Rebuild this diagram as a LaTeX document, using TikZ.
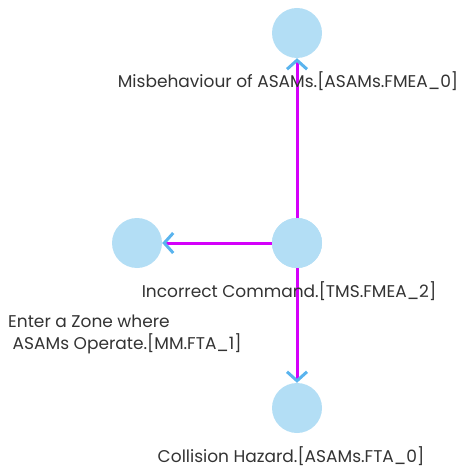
\documentclass[tikz,border=0pt]{standalone}
\usepackage{fontspec}
\setmainfont{Poppins}
\usetikzlibrary{arrows.meta}
\definecolor{nodeblue}{HTML}{B3DEF5}
\definecolor{tipblue}{HTML}{5AB4EE}
\definecolor{linemag}{HTML}{D400FA}
\definecolor{txt}{HTML}{333333}
\begin{document}
\begin{tikzpicture}[x=1pt,y=-1pt,
  ev/.style={circle,fill=nodeblue,minimum size=50pt,inner sep=0pt},
  lbl/.style={text=txt,font=\fontsize{17}{21}\selectfont,inner sep=0pt},
  conn/.style={draw=linemag,line width=3pt,-{Straight Barb[color=tipblue,length=9pt,width=20pt,line width=3pt]}}]
\useasboundingbox (0,0) rectangle (466,470);
\node[ev] (mid) at (297,243) {};
\node[ev] (top) at (297,33) {};
\node[ev] (left) at (137,243) {};
\node[ev] (bot) at (297,408) {};
\draw[conn] (mid.center) -- (top.south);
\draw[conn] (mid.center) -- (left.east);
\draw[conn] (mid.center) -- (bot.north);
\node[ev] at (297,243) (midc) {};
\node[lbl,anchor=base] (ltop) at (288,88) {Misbehaviour of ASAMs.[ASAMs.FMEA\_0]};
\node[lbl,anchor=base] (lmid) at (289,297) {Incorrect Command.[TMS.FMEA\_2]};
\node[lbl,anchor=base west] (lleft1) at (8,327) {Enter a Zone where};
\node[lbl,anchor=base west] (lleft2) at (8,349) {\ ASAMs Operate.[MM.FTA\_1]};
\node[lbl,anchor=base] (lbot) at (291,462) {Collision Hazard.[ASAMs.FTA\_0]};
\end{tikzpicture}
\end{document}
